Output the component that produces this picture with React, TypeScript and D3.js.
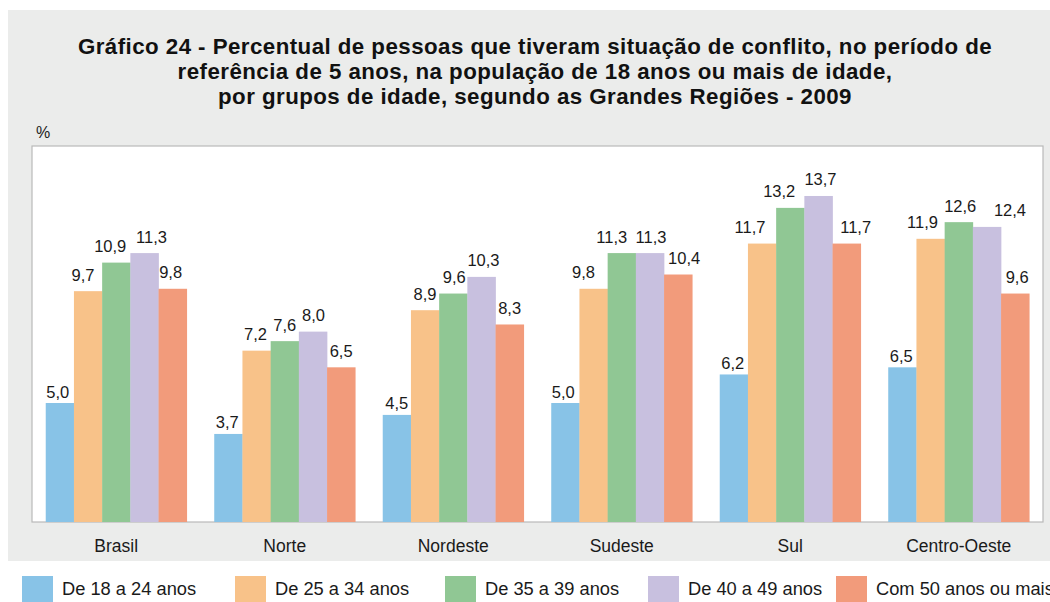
import React from "react";
import * as d3 from "d3";

const regions = ["Brasil", "Norte", "Nordeste", "Sudeste", "Sul", "Centro-Oeste"];
const seriesNames = [
  "De 18 a 24 anos",
  "De 25 a 34 anos",
  "De 35 a 39 anos",
  "De 40 a 49 anos",
  "Com 50 anos ou mais",
];
const v18_24 = [5.0, 3.7, 4.5, 5.0, 6.2, 6.5];
const v25_34 = [9.7, 7.2, 8.9, 9.8, 11.7, 11.9];
const v35_39 = [10.9, 7.6, 9.6, 11.3, 13.2, 12.6];
const v40_49 = [11.3, 8.0, 10.3, 11.3, 13.7, 12.4];
const v50plus = [9.8, 6.5, 8.3, 10.4, 11.7, 9.6];
const seriesValues = [v18_24, v25_34, v35_39, v40_49, v50plus];
const colors = ["#88c3e7", "#f8c289", "#90c794", "#c8c0df", "#f29b7b"];
const titleLines = [
  "Gráfico 24 - Percentual de pessoas que tiveram situação de conflito, no período de",
  "referência de 5 anos, na população de 18 anos ou mais de idade,",
  "por grupos de idade, segundo as Grandes Regiões - 2009",
];

const FONT = "'Liberation Sans', Arial, Helvetica, sans-serif";

// layout: horizontal nudges of value labels (px), per series then region
const labelNudge = [
  [-2, -1, 0, -2, -1, -1],
  [-5, -1, 0, -10, -12, -8],
  [-6, 0, 1, -10, -11, 1.5],
  [7, 0.5, 2, 1, 2, 23],
  [-2, 0, 0, 6, 9, 2],
];
const labelGap = [5.5, 10.5, 10.5, 10.5, 10.5];

export default function App() {
  const plotL = 32, plotR = 1043, plotT = 146, plotB = 522;
  const x0 = d3.scaleBand<string>().domain(regions).range([plotL, plotR]).paddingInner(0.163).paddingOuter(0.0815);
  const x1 = d3.scaleBand<number>().domain(d3.range(seriesNames.length)).range([0, x0.bandwidth()]);
  const y = d3.scaleLinear().domain([0, 15.8]).range([plotB, plotT]);
  const fmt = (v: number) => v.toFixed(1).replace(".", ",");
  const legendX = [22, 235, 445, 648, 836];

  return (
    <svg width={1050} height={602} style={{ position: "absolute", left: 0, top: 0 }} fontFamily={FONT}>
      <rect x={0} y={0} width={1050} height={602} fill="#ffffff" />
      <rect x={8} y={10} width={1042} height={551} fill="#ebeceb" />
      {titleLines.map((t, i) => (
        <text key={i} x={535} y={54 + i * 25} textAnchor="middle" fontSize={22.3} fontWeight="bold" letterSpacing={0.45} fill="#111">
          {t}
        </text>
      ))}
      <text x={36} y={138} fontSize={16} fill="#222">%</text>
      <rect x={plotL} y={plotT} width={plotR - plotL} height={plotB - plotT} fill="#ffffff" stroke="#b9b9b9" strokeWidth={1.2} />
      {regions.map((r, ri) => (
        <g key={r} transform={`translate(${x0(r)},0)`}>
          {seriesValues.map((vals, si) => (
            <g key={si}>
              <rect x={x1(si)} y={y(vals[ri])} width={x1.bandwidth() + 0.3} height={plotB - y(vals[ri])} fill={colors[si]} />
              <text
                x={(x1(si) as number) + x1.bandwidth() / 2 + labelNudge[si][ri]}
                y={y(vals[ri]) - labelGap[si]}
                textAnchor="middle"
                fontSize={16.5}
                fill="#1a1a1a"
              >
                {fmt(vals[ri])}
              </text>
            </g>
          ))}
        </g>
      ))}
      {regions.map((r) => (
        <text key={r} x={(x0(r) as number) + x0.bandwidth() / 2} y={552} textAnchor="middle" fontSize={17.5} fill="#1a1a1a">
          {r}
        </text>
      ))}
      {seriesNames.map((s, i) => (
        <g key={s}>
          <rect x={legendX[i]} y={576} width={31} height={26} fill={colors[i]} />
          <text x={legendX[i] + 40} y={595} fontSize={18.3} fill="#1a1a1a">{s}</text>
        </g>
      ))}
    </svg>
  );
}
